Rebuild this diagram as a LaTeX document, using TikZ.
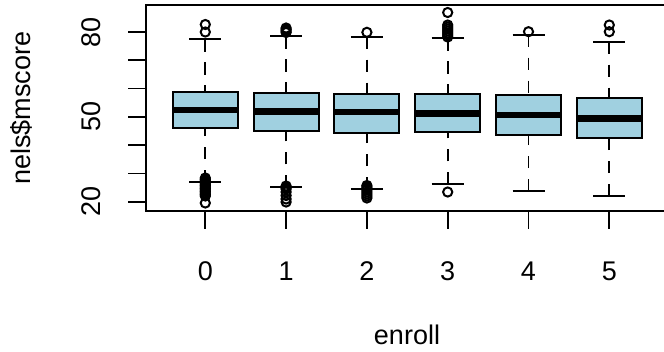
\documentclass[tikz,border=0pt]{standalone}
\usepackage{fontspec}
\setmainfont{Liberation Sans}
\definecolor{boxfill}{RGB}{160,208,224}
\begin{document}
\begin{tikzpicture}[x=1pt,y=-1pt,
  frameline/.style={line width=2pt},
  tickline/.style={line width=1.8pt},
  whisk/.style={line width=1.8pt, dash pattern=on 12.5pt off 10.5pt},
  capline/.style={line width=1.8pt},
  boxshape/.style={draw, line width=2pt, fill=boxfill},
  medline/.style={line width=6.5pt},
  outl/.style={line width=2pt},
  lbl/.style={font=\fontsize{27}{32}\selectfont, inner sep=0pt}]
\useasboundingbox (0,0) rectangle (664,351);
\fill[white] (0,0) rectangle (664,351);
% plot frame
\draw[frameline] (145.7,5) rectangle (668,211);
% y axis ticks
\foreach \v in {20,30,...,80}{
  \draw[tickline] (128,{201.7-(\v-20)*2.828}) -- (145.7,{201.7-(\v-20)*2.828});
}
\foreach \v in {20,50,80}{
  \node[lbl, rotate=90, anchor=south] (ylab\v) at (101,{201.7-(\v-20)*2.828}) {\v};
}
\node[lbl, rotate=90, anchor=south] (ytitle) at (33,108) {nels\$mscore};
% groups
\foreach \cx/\qt/\qb/\md/\uw/\lw [count=\i from 0] in
  {205.3/92/128/110/39/182,
   286.1/93.3/131/111.7/36/187.3,
   366.9/94/132.7/112/36.7/189,
   447.7/94/132/113.3/38.3/184.3,
   528.5/94.7/135/115/34.7/191,
   609.3/98.3/138/118.3/41.7/196}{
  \draw[tickline] (\cx,211) -- (\cx,229);
  \node[lbl, anchor=base] (xlab\i) at (\cx,280) {\i};
  \draw[whisk] (\cx,\uw) -- (\cx,\qt);
  \draw[whisk] (\cx,\lw) -- (\cx,\qb);
  \draw[capline] (\cx-16,\uw) -- (\cx+16,\uw);
  \draw[capline] (\cx-16,\lw) -- (\cx+16,\lw);
  \draw[boxshape] (\cx-32.5,\qt) rectangle (\cx+32.5,\qb);
  \draw[medline] (\cx-32.5,\md) -- (\cx+32.5,\md);
}
\node[lbl, anchor=base] (xtitle) at (407,344) {enroll};
% outliers
\foreach \cx/\ys in {
  205.3/{24.5,32,178,179.5,181,182.5,184,185.5,187,188.5,190,191.5,193,194.5,196,203},
  286.1/{28,29.5,31,32.5,186,187.5,189,192,195.5,199,202},
  366.9/{32.3,185.5,187,188.5,190,192,194,196,198},
  447.7/{12.5,25,27,29,31,33,35,37,192},
  528.5/{31.7},
  609.3/{25,31.7}}{
  \foreach \y in \ys { \draw[outl] (\cx,\y) circle (4.6); }
}
\end{tikzpicture}
\end{document}
